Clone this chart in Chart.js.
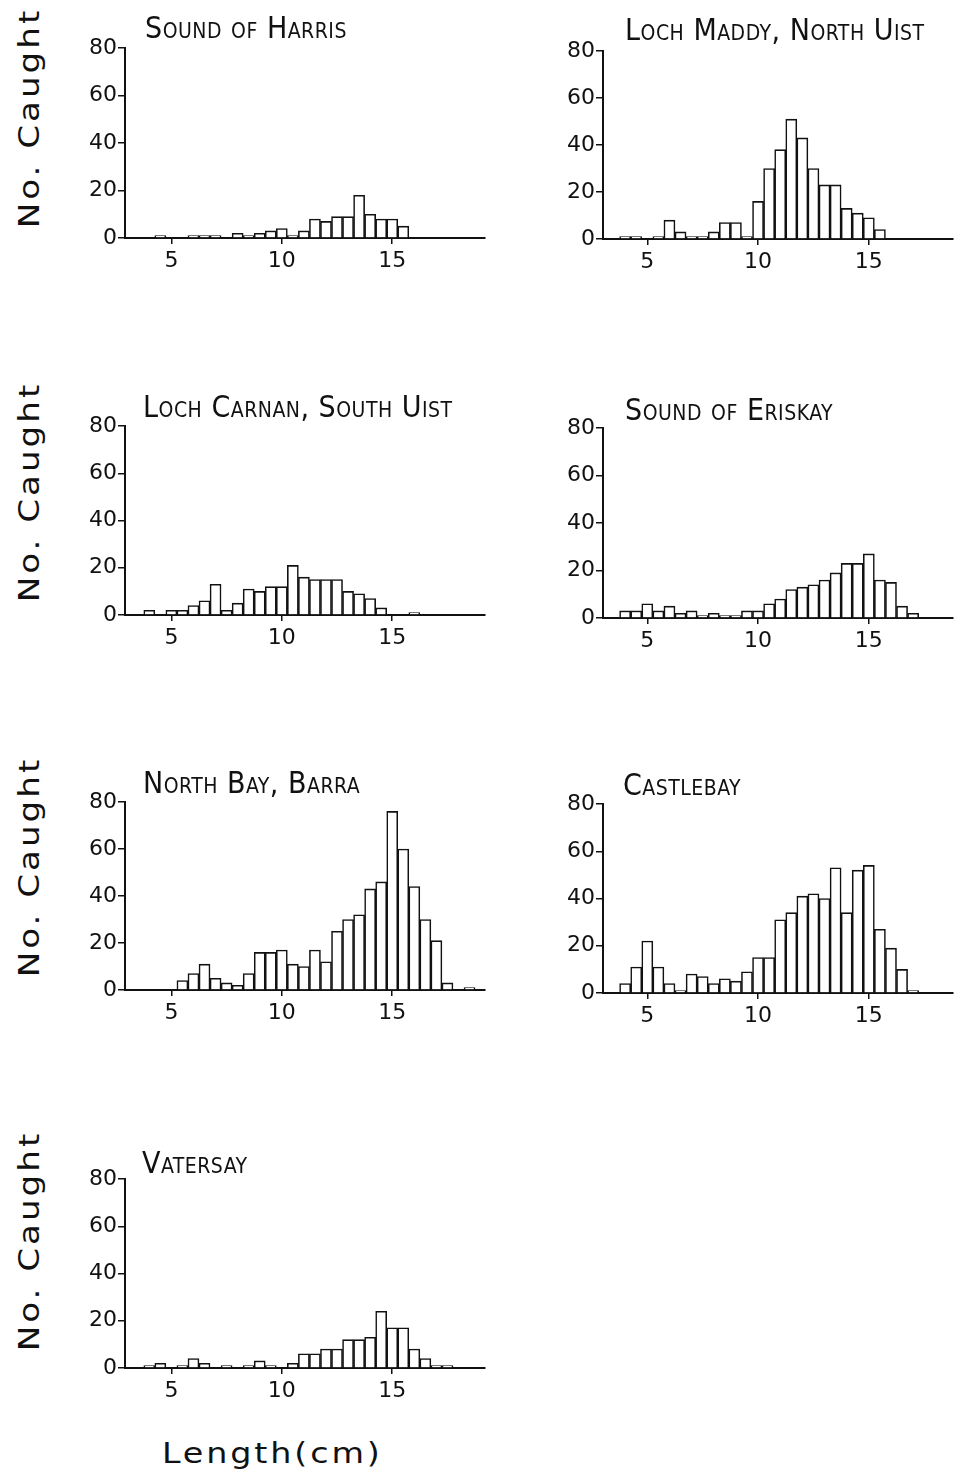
<!DOCTYPE html>
<html lang="en">
<head>
<meta charset="UTF-8">
<title>Length frequency by site</title>
<script src="https://cdn.jsdelivr.net/npm/chart.js"></script>
<style>
  body { margin: 0; background: #fff; }
  #page { position: relative; width: 969px; height: 1479px; overflow: hidden; background: #fff; }
  #page canvas { position: absolute; }
  .site {
    position: absolute;
    font-family: "DejaVu Sans Condensed", "DejaVu Sans", sans-serif;
    font-stretch: condensed;
    font-variant: small-caps;
    font-size: 30px;
    line-height: 30px;
    letter-spacing: 0.5px;
    white-space: nowrap;
    color: #111;
  }
  .axislab {
    position: absolute;
    font-family: "DejaVu Sans", sans-serif;
    font-size: 29px;
    line-height: 30px;
    letter-spacing: 2.5px;
    white-space: nowrap;
    color: #111;
  }
  .xlab { transform-origin: 0 0; transform: scaleX(1.15); }
  .ylab { transform: translate(-50%, -50%) rotate(-90deg) scaleX(1.18); }
</style>
</head>
<body>
<div id="page"></div>
<script>
// length classes (cm), 0.5 cm bins
const binCentres = [4, 4.5, 5, 5.5, 6, 6.5, 7, 7.5, 8, 8.5, 9, 9.5,
                    10, 10.5, 11, 11.5, 12, 12.5, 13, 13.5, 14, 14.5, 15, 15.5,
                    16, 16.5, 17, 17.5, 18, 18.5];
const xTicks = [5, 10, 15];
const yTicks = [0, 20, 40, 60, 80];

const sites = ['Sound of Harris', 'Loch Maddy, North Uist', 'Loch Carnan, South Uist',
               'Sound of Eriskay', 'North Bay, Barra', 'Castlebay', 'Vatersay'];

const soundOfHarris  = [0, 1, 0, 0, 1, 1, 1, 0, 2, 1, 2, 3,  4, 1, 3, 8, 7, 9, 9, 18, 10, 8, 8, 5,  0, 0, 0, 0, 0, 0];
const lochMaddy      = [1, 1, 0, 1, 8, 3, 1, 1, 3, 7, 7, 1,  16, 30, 38, 51, 43, 30, 23, 23, 13, 11, 9, 4,  0, 0, 0, 0, 0, 0];
const lochCarnan     = [2, 0, 2, 2, 4, 6, 13, 2, 5, 11, 10, 12,  12, 21, 16, 15, 15, 15, 10, 9, 7, 3, 0, 0,  1, 0, 0, 0, 0, 0];
const soundOfEriskay = [3, 3, 6, 3, 5, 2, 3, 1, 2, 1, 1, 3,  3, 6, 8, 12, 13, 14, 16, 19, 23, 23, 27, 16,  15, 5, 2, 0, 0, 0];
const northBay       = [0, 0, 0, 4, 7, 11, 5, 3, 2, 7, 16, 16,  17, 11, 10, 17, 12, 25, 30, 32, 43, 46, 76, 60,  44, 30, 21, 3, 0, 1];
const castlebay      = [4, 11, 22, 11, 4, 1, 8, 7, 4, 6, 5, 9,  15, 15, 31, 34, 41, 42, 40, 53, 34, 52, 54, 27,  19, 10, 1, 0, 0, 0];
const vatersay       = [1, 2, 0, 1, 4, 2, 0, 1, 0, 1, 3, 1,  0, 2, 6, 6, 8, 8, 12, 12, 13, 24, 17, 17,  8, 4, 1, 1, 0, 0];

const counts = [soundOfHarris, lochMaddy, lochCarnan, soundOfEriskay, northBay, castlebay, vatersay];

// page layout of each panel: plot box, axis range, title and y label spots
const panels = [
  { left: 125, top: 48,  right: 485, bottom: 238,  xMin: 2.9, xMax: 19.2, titleX: 145, base: 38,   yLab: 118 },
  { left: 603, top: 51,  right: 953, bottom: 239,  xMin: 3.0, xMax: 18.8, titleX: 625, base: 40 },
  { left: 125, top: 426, right: 485, bottom: 615,  xMin: 2.9, xMax: 19.2, titleX: 143, base: 417,  yLab: 492 },
  { left: 603, top: 428, right: 953, bottom: 618,  xMin: 3.0, xMax: 18.8, titleX: 625, base: 420 },
  { left: 125, top: 802, right: 485, bottom: 990,  xMin: 2.9, xMax: 19.2, titleX: 143, base: 793,  yLab: 867 },
  { left: 603, top: 804, right: 953, bottom: 993,  xMin: 3.0, xMax: 18.8, titleX: 623, base: 795 },
  { left: 125, top: 1179, right: 485, bottom: 1368, xMin: 2.9, xMax: 19.2, titleX: 142, base: 1173, yLab: 1241 }
];

const page = document.getElementById('page');
const ink = '#111';
const tickFont = { family: '"DejaVu Sans", sans-serif', size: 22 };

function addText(cls, text, x, y) {
  const d = document.createElement('div');
  d.className = cls;
  d.textContent = text;
  d.style.left = x + 'px';
  d.style.top = y + 'px';
  page.appendChild(d);
  return d;
}

panels.forEach((p, i) => {
  const padL = 70, padT = 20, padR = 12, padB = 40;
  const w = p.right - p.left + padL + padR;
  const h = p.bottom - p.top + padT + padB;
  const cv = document.createElement('canvas');
  cv.width = w;
  cv.height = h;
  cv.style.left = (p.left - padL) + 'px';
  cv.style.top = (p.top - padT) + 'px';
  cv.style.width = w + 'px';
  cv.style.height = h + 'px';
  page.appendChild(cv);

  new Chart(cv, {
    type: 'bar',
    data: {
      datasets: [{
        data: binCentres.map((x, k) => ({ x: x, y: counts[i][k] })),
        backgroundColor: '#fff',
        borderColor: ink,
        borderWidth: 1.6,
        borderSkipped: 'start',
        barPercentage: 1,
        categoryPercentage: 1
      }]
    },
    options: {
      responsive: false,
      animation: false,
      layout: { padding: { left: 0, top: padT, right: padR, bottom: 0 } },
      plugins: { legend: { display: false }, tooltip: { enabled: false } },
      scales: {
        x: {
          type: 'linear',
          min: p.xMin,
          max: p.xMax,
          offset: false,
          grid: { display: true, offset: false, drawOnChartArea: false, drawTicks: true, tickLength: 6, color: ink, lineWidth: 1.5 },
          border: { display: true, color: ink, width: 2 },
          ticks: { font: tickFont, color: ink, padding: 4, maxRotation: 0 },
          afterBuildTicks: s => { s.ticks = xTicks.map(v => ({ value: v })); },
          afterFit: s => { s.height = padB; }
        },
        y: {
          min: 0,
          max: 80,
          grid: { display: true, drawOnChartArea: false, drawTicks: true, tickLength: 7, color: ink, lineWidth: 1.5 },
          border: { display: true, color: ink, width: 2 },
          ticks: { font: tickFont, color: ink, padding: 1 },
          afterBuildTicks: s => { s.ticks = yTicks.map(v => ({ value: v })); },
          afterFit: s => { s.width = padL; }
        }
      }
    }
  });

  // panel title, baseline sits ~25px below the top of a 30px line box
  addText('site', sites[i], p.titleX, p.base - 25);
  if (p.yLab !== undefined) addText('axislab ylab', 'No. Caught', 29, p.yLab);
});

addText('axislab xlab', 'Length(cm)', 162, 1438);
</script>
</body>
</html>
